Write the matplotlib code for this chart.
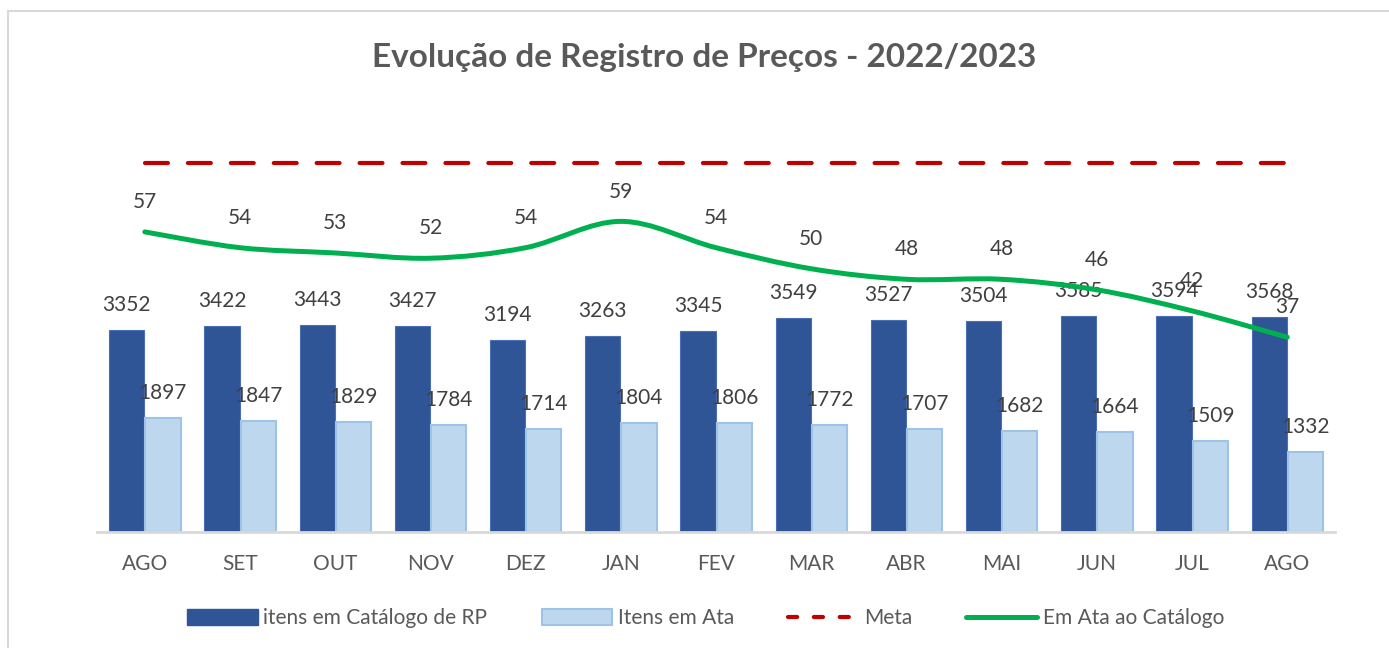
import numpy as np
import matplotlib
matplotlib.use('Agg')
import matplotlib.pyplot as plt
from matplotlib.path import Path
from matplotlib.patches import PathPatch, Rectangle
from matplotlib.lines import Line2D
from matplotlib.patches import Patch

plt.rcParams['font.family'] = ['Lato', 'DejaVu Sans']

meses = ['AGO', 'SET', 'OUT', 'NOV', 'DEZ', 'JAN', 'FEV', 'MAR', 'ABR', 'MAI', 'JUN', 'JUL', 'AGO']
catalogo = [3352, 3422, 3443, 3427, 3194, 3263, 3345, 3549, 3527, 3504, 3585, 3594, 3568]
em_ata = [1897, 1847, 1829, 1784, 1714, 1804, 1806, 1772, 1707, 1682, 1664, 1509, 1332]
percentual = [57, 54, 53, 52, 54, 59, 54, 50, 48, 48, 46, 42, 37]
meta = 70

cinza = '#595959'
azul = '#2F5597'
azul_claro = '#BDD7EE'
verde = '#00B050'
vermelho = '#C00000'

fig = plt.figure(figsize=(13.89, 6.48), dpi=100)
fig.patches.append(Rectangle((8/1389, -0.1), 1.2, 1 - 11/648 + 0.1, transform=fig.transFigure,
                             fill=False, edgecolor='#D9D9D9', lw=1.5))

ax = fig.add_axes([0.070, 0.179, 0.891, 0.650])
ax2 = ax.twinx()

x = np.arange(len(meses))
w = 0.37
b1 = ax.bar(x - w/2 - 0.005, catalogo, w, color=azul, edgecolor='#4A6FB5', lw=0.8, zorder=2)
b2 = ax.bar(x + w/2 + 0.005, em_ata, w, color=azul_claro, edgecolor='#9DC3E6', lw=1.5, zorder=2)
for rect, v in zip(b1, catalogo):
    ax.annotate(str(v), (rect.get_x() + rect.get_width()/2, v), xytext=(0, 18), textcoords='offset points',
                ha='center', va='center', fontsize=15, color='#404040')
for rect, v in zip(b2, em_ata):
    ax.annotate(str(v), (rect.get_x() + rect.get_width()/2, v), xytext=(0, 18), textcoords='offset points',
                ha='center', va='center', fontsize=15, color='#404040')

ax.set_xlim(-0.5, len(meses) - 0.5)
ax.set_ylim(0, 7000)
ax2.set_ylim(0, 80)

# meta tracejada
ax2.plot([x[0], x[-1]], [meta, meta], color=vermelho, lw=3, dashes=(5.5, 4.8),
         dash_capstyle='round', zorder=3)

# linha suavizada (estilo Excel) com curvas de Bezier
pts = np.column_stack([x, percentual]).astype(float)
verts = [tuple(pts[0])]
codes = [Path.MOVETO]
for i in range(len(pts) - 1):
    p0 = pts[i - 1] if i > 0 else pts[i]
    p1 = pts[i]
    p2 = pts[i + 1]
    p3 = pts[i + 2] if i + 2 < len(pts) else pts[i + 1]
    c1 = p1 + (p2 - p0) / 6
    c2 = p2 - (p3 - p1) / 6
    verts += [tuple(c1), tuple(c2), tuple(p2)]
    codes += [Path.CURVE4] * 3
ax2.add_patch(PathPatch(Path(verts, codes), facecolor='none', edgecolor=verde, lw=3.6,
                        capstyle='round', zorder=4))
for xi, v in zip(x, percentual):
    ax2.annotate(str(v), (xi, v), xytext=(0, 21.5), textcoords='offset points',
                 ha='center', va='center', fontsize=15, color='#404040')

for a in (ax, ax2):
    for s in ['top', 'right', 'left']:
        a.spines[s].set_visible(False)
    a.set_yticks([])
ax2.spines['bottom'].set_visible(False)
ax.spines['bottom'].set_color('#D9D9D9')
ax.spines['bottom'].set_linewidth(2)
ax.set_xticks(x)
ax.set_xticklabels(meses, fontsize=15, color=cinza)
ax.tick_params(axis='x', length=0, pad=16)

fig.text(0.507, 0.912, 'Evolução de Registro de Preços - 2022/2023', ha='center', va='center',
         fontsize=24, fontweight='bold', color=cinza)

handles = [Patch(facecolor=azul, edgecolor=azul),
           Patch(facecolor=azul_claro, edgecolor='#9DC3E6', lw=1.5),
           Line2D([0], [0], color=vermelho, lw=3, dashes=(2.2, 4.0), dash_capstyle='round'),
           Line2D([0], [0], color=verde, lw=3.6, solid_capstyle='round')]
labels = ['itens em Catálogo de RP', 'Itens em Ata', 'Meta', 'Em Ata ao Catálogo']
fig.legend(handles, labels, loc='center', bbox_to_anchor=(0.508, 0.046), ncol=4, frameon=False,
           fontsize=15, handlelength=3.4, handleheight=0.8, handletextpad=0.25, columnspacing=2.6,
           labelcolor=cinza)

fig.savefig('out.png', dpi=100)
